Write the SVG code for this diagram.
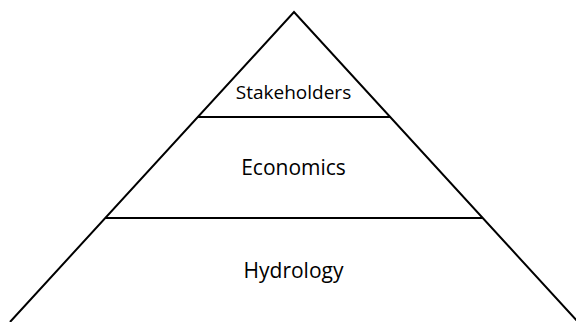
<svg xmlns="http://www.w3.org/2000/svg" width="576" height="322" viewBox="0 0 576 322">
<style>
.ln{stroke:#000;stroke-width:2;fill:none}
.t{font-family:"Open Sans","Liberation Sans",sans-serif;fill:#000;text-anchor:middle}
</style>
<rect width="576" height="322" fill="#fff"/>
<g id="connectors">
<path class="ln" d="M10,322 L294,12 L578,322"/>
<line class="ln" x1="197.8" y1="117" x2="390.2" y2="117"/>
<line class="ln" x1="105.3" y1="218" x2="482.7" y2="218"/>
</g>
<g id="stakeholders"><text class="t" x="293.5" y="99" font-size="19">Stakeholders</text></g>
<g id="economics"><text class="t" x="293.5" y="175" font-size="21">Economics</text></g>
<g id="hydrology"><text class="t" x="293.5" y="278" font-size="21">Hydrology</text></g>
</svg>
